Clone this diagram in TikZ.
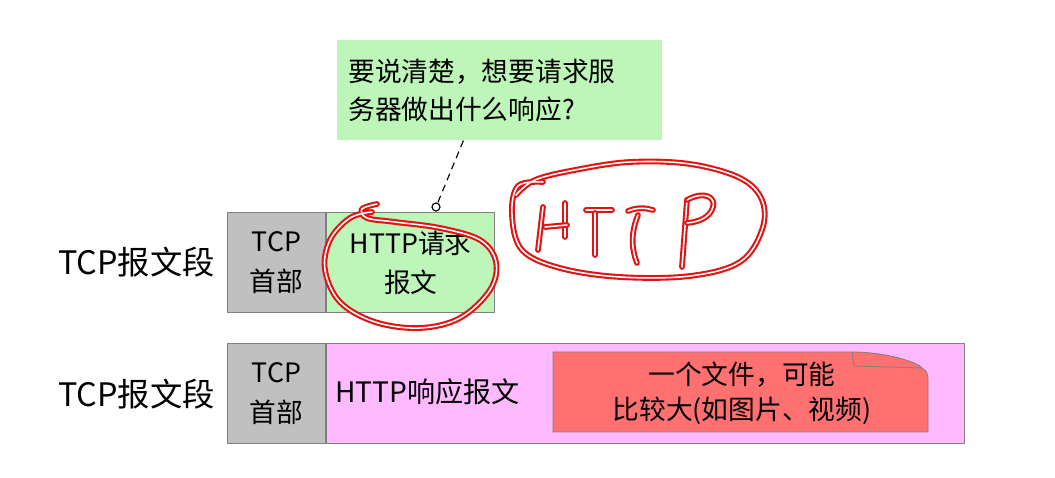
\documentclass[tikz,border=0pt]{standalone}
\usepackage{fontspec}
\setmainfont{Noto Sans CJK SC}
\usepackage{tikz}
\usetikzlibrary{positioning}

\definecolor{hdrgray}{RGB}{192,192,192}
\definecolor{reqgreen}{RGB}{190,245,185}
\definecolor{resppink}{RGB}{255,185,255}
\definecolor{filered}{RGB}{255,112,112}
\definecolor{edgegray}{RGB}{128,128,128}
\definecolor{inkred}{RGB}{225,20,20}

\begin{document}
\begin{tikzpicture}[x=0.025cm, y=-0.025cm,
    field/.style={draw=edgegray, line width=0.8pt, minimum height=2.5cm, inner sep=0pt, align=center, font=\fontsize{19}{28}\selectfont},
    ink/.style={draw=inkred, double=white, double distance=1.1pt, line width=1.5pt, line cap=round, line join=round}]
    \useasboundingbox (0,0) rectangle (1055,478);

    % request segment
    \node[field, fill=hdrgray, minimum width=2.45cm, anchor=north west] (hdrReq) at (227,212) {TCP\\首部};
    \node[field, fill=reqgreen, minimum width=4.2cm, right=0pt of hdrReq] (req) {HTTP请求\\报文};
    \node[left=0.3cm of hdrReq, inner sep=0pt, font=\fontsize{23}{28}\selectfont] (segReq) {TCP报文段};

    % response segment
    \node[field, fill=hdrgray, minimum width=2.45cm, below=0.75cm of hdrReq] (hdrResp) {TCP\\首部};
    \node[field, fill=resppink, minimum width=15.95cm, right=0pt of hdrResp] (resp) {};
    \node[left=0.3cm of hdrResp, inner sep=0pt, font=\fontsize{23}{28}\selectfont] (segResp) {TCP报文段};
    \node[anchor=west, inner sep=0pt, font=\fontsize{20}{27}\selectfont] (respText) at (335,392) {HTTP响应报文};

    % file note with folded corner
    \filldraw[fill=filered, draw=edgegray, line width=0.6pt] (553,352) -- (852,352) .. controls (885,352) and (918,362) .. (922,368) .. controls (927,371) and (928,374) .. (928,380) -- (928,432) -- (553,432) -- cycle;
    \draw[edgegray, line width=0.6pt] (852,352) -- (854,366) -- (922,368);
    \node[align=center, font=\fontsize{19}{25}\selectfont] (fileNote) at (742,393) {一个文件，可能\\比较大(如图片、视频)};

    % question callout
    \node[fill=reqgreen, anchor=north west, minimum height=2.5cm, text width=7.575cm, inner xsep=0.275cm, align=left, font=\fontsize{19}{27.5}\selectfont] (askNote) at (337,40) {要说清楚，想要请求服\\务器做出什么响应?};
    \node[circle, draw, fill=white, line width=0.8pt, inner sep=0pt, minimum size=0.2cm] (knob) at (436,207) {};
    \draw[dash pattern=on 5pt off 3.5pt, line width=0.8pt] ([xshift=-0.91cm]askNote.south) -- (knob);

    % red ink: loop round the request
    \draw[ink] plot[smooth, tension=0.6] coordinates {(377,204) (362,209) (367,218) (395,222) (440,228) (480,240) (496,262) (490,290) (460,318) (420,328) (375,322) (340,302) (325,270) (330,240) (350,218) (372,212)};

    % red ink: HTTP in a loop
    \draw[ink] plot[smooth, tension=0.6] coordinates {(543,182) (518,186) (512,215) (522,250) (560,268) (620,277) (690,276) (740,262) (762,230) (762,200) (740,178) (690,164) (630,162) (575,170) (535,180) (516,195)};
    \draw[ink] (543,207) -- (538,250);
    \draw[ink] (565,203) -- (565,237);
    \draw[ink] (545,227) -- (567,225);
    \draw[ink] (586,210) -- (612,210);
    \draw[ink] (595,213) -- (595,255);
    \draw[ink] (628,211) .. controls (638,207) and (646,208) .. (653,210);
    \draw[ink] (638,215) .. controls (630,235) and (632,250) .. (637,263);
    \draw[ink] (687,200) -- (682,267);
    \draw[ink] (687,200) .. controls (705,190) and (716,198) .. (713,207) .. controls (710,218) and (698,222) .. (687,223);
\end{tikzpicture}
\end{document}
